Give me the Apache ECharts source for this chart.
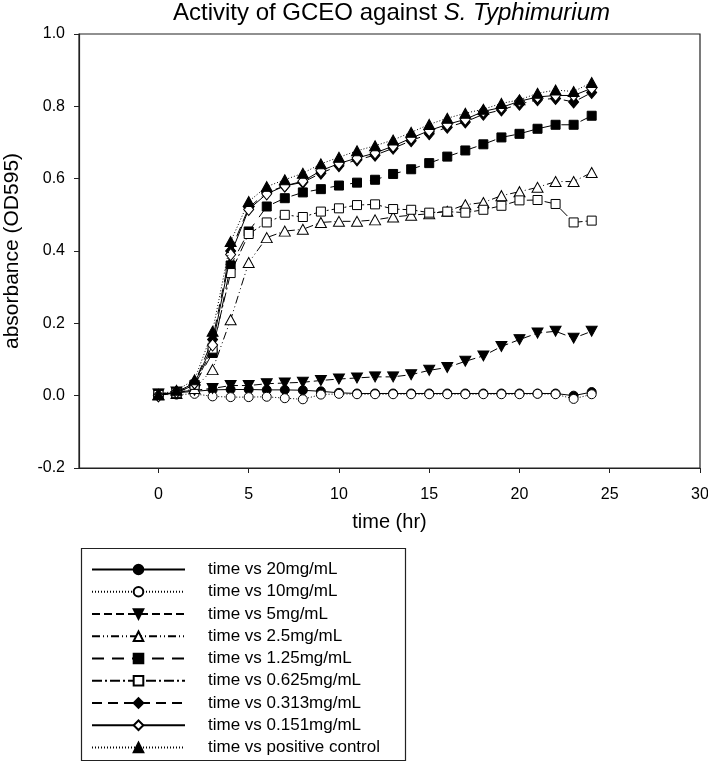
<!DOCTYPE html>
<html><head><meta charset="utf-8">
<script src="https://cdn.jsdelivr.net/npm/echarts@6/dist/echarts.min.js"></script>
<style>html,body{margin:0;padding:0;background:#fff}#c{width:708px;height:767px}</style>
</head><body><div id="c"></div>
<script>
const timeHr = [0,1,2,3,4,5,6,7,8,9,10,11,12,13,14,15,16,17,18,19,20,21,22,23,24];
const xTickValues = [0,5,10,15,20,25,30];
const seriesNames = ['time vs 20mg/mL','time vs 10mg/mL','time vs 5mg/mL','time vs 2.5mg/mL','time vs 1.25mg/mL','time vs 0.625mg/mL','time vs 0.313mg/mL','time vs 0.151mg/mL','time vs positive control'];
const conc20 = [0.005,0.008,0.012,0.016,0.017,0.017,0.016,0.016,0.015,0.012,0.008,0.006,0.006,0.006,0.006,0.006,0.006,0.006,0.006,0.006,0.006,0.006,0.006,0.000,0.010];
const conc10 = [0.003,0.003,0.005,-0.002,-0.004,-0.004,-0.003,-0.007,-0.010,0.003,0.005,0.004,0.004,0.004,0.004,0.004,0.004,0.004,0.004,0.004,0.004,0.005,0.004,-0.009,0.004];
const conc5 = [0.005,0.010,0.015,0.020,0.028,0.028,0.033,0.035,0.037,0.042,0.046,0.049,0.052,0.052,0.058,0.070,0.078,0.095,0.110,0.136,0.155,0.173,0.178,0.159,0.178];
const conc2_5 = [0.002,0.006,0.020,0.072,0.210,0.368,0.437,0.455,0.460,0.479,0.482,0.482,0.486,0.494,0.499,0.503,0.510,0.528,0.534,0.553,0.564,0.576,0.592,0.592,0.617];
const conc1_25 = [0.003,0.008,0.030,0.118,0.360,0.454,0.523,0.546,0.562,0.571,0.581,0.589,0.597,0.613,0.626,0.643,0.661,0.678,0.695,0.714,0.724,0.738,0.749,0.749,0.774];
const conc0_625 = [0.002,0.008,0.030,0.130,0.339,0.447,0.479,0.500,0.494,0.509,0.518,0.527,0.529,0.516,0.514,0.506,0.509,0.506,0.514,0.525,0.540,0.541,0.530,0.479,0.484];
const conc0_313 = [0.000,0.010,0.035,0.155,0.400,0.520,0.562,0.580,0.590,0.615,0.636,0.652,0.665,0.684,0.705,0.724,0.742,0.757,0.778,0.790,0.806,0.818,0.822,0.812,0.838];
const conc0_151 = [0.000,0.010,0.035,0.140,0.390,0.515,0.558,0.580,0.593,0.622,0.642,0.657,0.671,0.690,0.712,0.733,0.750,0.764,0.786,0.797,0.814,0.826,0.830,0.830,0.850];
const positiveControl = [0.003,0.015,0.044,0.178,0.426,0.537,0.578,0.597,0.615,0.641,0.659,0.677,0.691,0.707,0.728,0.750,0.767,0.781,0.792,0.808,0.818,0.836,0.845,0.841,0.866];

const allValues = [conc20,conc10,conc5,conc2_5,conc1_25,conc0_625,conc0_313,conc0_151,positiveControl];
const styles = [
  {symbol:'circle', size:9, fill:'#000', dash:'solid'},
  {symbol:'circle', size:9, fill:'#fff', dash:[1,2]},
  {symbol:'triangle', size:[11,10], fill:'#000', dash:[8,4], rotate:180},
  {symbol:'triangle', size:[11,10], fill:'#fff', dash:[8,3,1,3,1,3]},
  {symbol:'rect', size:9, fill:'#000', dash:[12,8]},
  {symbol:'rect', size:9, fill:'#fff', dash:[10,3,2,3]},
  {symbol:'diamond', size:[10,12], fill:'#000', dash:[10,6]},
  {symbol:'diamond', size:[10,12], fill:'#fff', dash:'solid'},
  {symbol:'triangle', size:[11,10], fill:'#000', dash:[1,2]}
];

const series = seriesNames.map((name,i)=>({
  name: name,
  type: 'line',
  data: timeHr.map((t,j)=>[t, allValues[i][j]]),
  symbol: styles[i].symbol,
  symbolSize: styles[i].size,
  symbolRotate: styles[i].rotate || 0,
  showSymbol: true,
  lineStyle: {color:'#000', width:1, type: styles[i].dash},
  itemStyle: {color: styles[i].fill, borderColor:'#000', borderWidth:1, opacity:1},
  emphasis: {disabled:true},
  z: 2 + i
}));

const chart = echarts.init(document.getElementById('c'), null, {renderer:'canvas'});
const FONT = 'Liberation Sans, Arial, sans-serif';
chart.setOption({
  animation: false,
  backgroundColor: '#fff',
  textStyle: {fontFamily: FONT, color:'#000'},
  title: {
    text: '{a|Activity of GCEO against }{b|S. Typhimurium}',
    left: 173, top: 1, padding: 0,
    textStyle: {
      rich: {
        a: {fontSize: 24, fontFamily: FONT, color:'#000', fontWeight:'normal'},
        b: {fontSize: 24, fontFamily: FONT, color:'#000', fontStyle:'italic', fontWeight:'normal'}
      }
    }
  },
  grid: {left:79, right:8, top:34, bottom:299, outerBoundsMode:'none', containLabel:false, show:true, borderColor:'#222', borderWidth:1.2, backgroundColor:'transparent'},
  xAxis: {
    type:'value', min:-4.4, max:30,
    name:'time (hr)', nameLocation:'middle', nameGap:44,
    nameTextStyle:{fontSize:20, color:'#000', fontFamily:FONT},
    axisLine:{show:true, onZero:false, lineStyle:{color:'#222', width:1.2}},
    axisTick:{show:true, inside:false, length:5, customValues: xTickValues, lineStyle:{color:'#222'}},
    axisLabel:{customValues: xTickValues, fontSize:16, color:'#000', margin:19, fontFamily:FONT},
    splitLine:{show:false}
  },
  yAxis: {
    type:'value', min:-0.2, max:1.0, interval:0.2,
    name:'absorbance (OD595)', nameLocation:'middle', nameGap:56, nameRotate:90,
    nameTextStyle:{fontSize:21, color:'#000', fontFamily:FONT},
    axisLine:{show:true, onZero:false, lineStyle:{color:'#222', width:1.2}},
    axisTick:{show:true, inside:false, length:5, lineStyle:{color:'#222'}},
    axisLabel:{fontSize:16, color:'#000', margin:14, fontFamily:FONT, formatter: v => v.toFixed(1)},
    splitLine:{show:false}
  },
  legend: {
    orient:'vertical', left:91, top:561, padding:0,
    itemWidth:93, itemHeight:12, itemGap:5.25,
    data: seriesNames,
    selectedMode:false,
    formatter: name => '{g|}{t|' + name + '}',
    textStyle: {
      color:'#000', fontFamily:FONT, fontSize:17,
      rich: {g:{width:18}, t:{fontSize:17, lineHeight:18, fontFamily:FONT, color:'#000'}}
    }
  },
  graphic: [{
    type:'rect', left:79, top:546, silent:true,
    shape:{width:324, height:212},
    style:{fill:'none', stroke:'#222', lineWidth:1.2}
  }],
  series: series
});
</script>
</body></html>
